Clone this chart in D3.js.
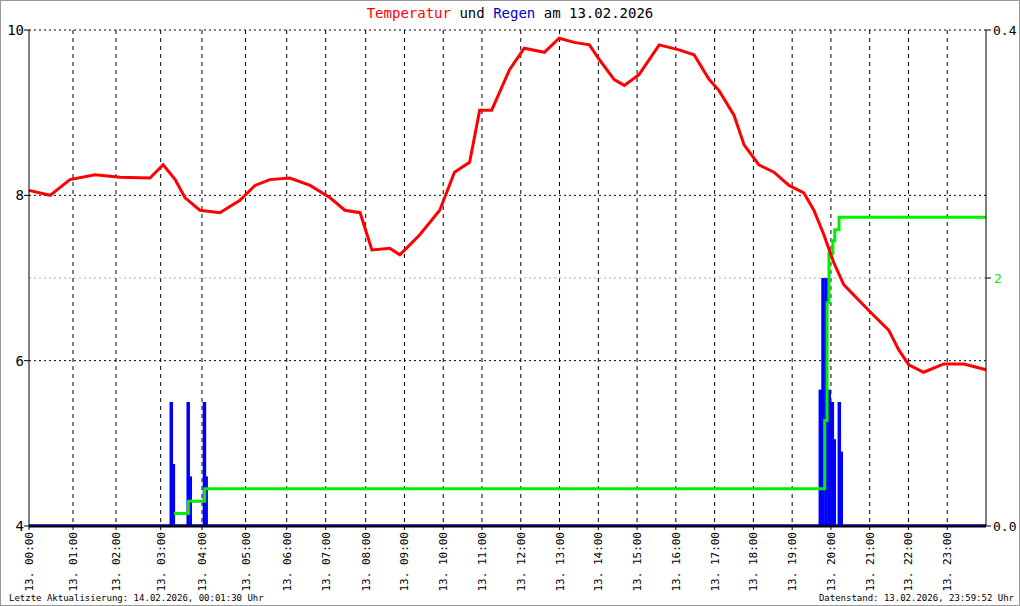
<!DOCTYPE html>
<html><head><meta charset="utf-8">
<script src="https://cdn.jsdelivr.net/npm/d3@7"></script>
<style>body{margin:0;background:#fff}svg{display:block}text{font-family:"DejaVu Sans Mono",monospace}</style>
</head><body><svg id="c" width="1020" height="606"></svg>
<script>
const tempHours=[0,0.48,0.93,1.51,2.09,2.76,3.06,3.35,3.59,3.95,4.41,4.87,5.23,5.59,6.08,6.60,7.11,7.48,7.86,8.16,8.62,8.88,9.39,9.91,10.29,10.68,10.94,11.25,11.71,12.09,12.61,12.99,13.38,13.77,14.03,14.41,14.67,15.05,15.57,16.08,16.47,16.86,17.11,17.50,17.76,18.14,18.53,18.92,19.30,19.56,19.82,20.07,20.33,20.72,21.10,21.49,21.75,22.01,22.39,22.91,23.43,24];
const tempValues=[8.06,8.00,8.19,8.25,8.22,8.21,8.37,8.19,7.97,7.82,7.79,7.94,8.12,8.19,8.21,8.12,7.97,7.82,7.79,7.34,7.36,7.28,7.52,7.82,8.28,8.40,9.03,9.03,9.52,9.78,9.73,9.90,9.85,9.82,9.64,9.40,9.33,9.46,9.82,9.76,9.70,9.40,9.27,8.97,8.61,8.37,8.28,8.12,8.03,7.82,7.52,7.19,6.92,6.73,6.55,6.37,6.13,5.95,5.86,5.96,5.96,5.89];
const rainHours=[3.25,3.30,3.66,3.71,4.05,4.09,19.72,19.79,19.87,19.95,20.03,20.08,20.21,20.26];
const rainValues=[0.1,0.05,0.1,0.04,0.1,0.04,0.11,0.2,0.2,0.11,0.1,0.07,0.1,0.06];
const sumHours=[3.32,3.67,4.06,19.69,19.84,19.90,19.95,20.05,20.10,20.21,24];
const sumValues=[0.1,0.2,0.3,0.3,0.85,1.8,2.2,2.3,2.39,2.49,2.49];
const hourTicks=d3.range(0,25);
const tempTicks=[4,6,8,10];
const title=[["Temperatur","#ff0000"],[" und ","#000"],["Regen","#0000cc"],[" am 13.02.2026","#000"]];

const svg=d3.select("#c");
svg.append("rect").attr("x",0.5).attr("y",0.5).attr("width",1019).attr("height",605).attr("fill","#fff").attr("stroke","#999");
const L=29,R=986,T=30,B=526;
// time axis of the source is slightly non-uniform
const xRange=[29,73,116,160.7,202,245.6,286.7,325.7,365.7];
for(let h=9;h<=24;h++) xRange.push(365.7+(h-8)*(R-365.7)/16);
const x=d3.scaleLinear().domain(hourTicks).range(xRange);
const yT=d3.scaleLinear().domain([4,10]).range([B,T]);
const yR=d3.scaleLinear().domain([0,0.4]).range([B,T]);
const yS=d3.scaleLinear().domain([0,4]).range([B,T]);

const g=svg.append("g");
hourTicks.slice(1,24).forEach(h=>g.append("line").attr("x1",x(h)).attr("x2",x(h)).attr("y1",T).attr("y2",B).attr("stroke","#000").attr("stroke-dasharray","4,4"));
[8,6,10].forEach(v=>g.append("line").attr("x1",L).attr("x2",R).attr("y1",yT(v)).attr("y2",yT(v)).attr("stroke","#000").attr("stroke-dasharray","2,3"));
g.append("line").attr("x1",L).attr("x2",R).attr("y1",yS(2)).attr("y2",yS(2)).attr("stroke","#aaa").attr("stroke-dasharray","2,3");

svg.append("g").selectAll("rect").data(rainHours).join("rect")
 .attr("x",(d)=>x(d)-1.5).attr("width",3.5)
 .attr("y",(d,i)=>yR(rainValues[i])).attr("height",(d,i)=>B-yR(rainValues[i])).attr("fill","#0000ff");

svg.append("path").datum(sumHours.map((h,i)=>[h,sumValues[i]]))
 .attr("d",d3.line().x(d=>x(d[0])).y(d=>yS(d[1])).curve(d3.curveStepAfter))
 .attr("fill","none").attr("stroke","#00ee00").attr("stroke-width",3);

svg.append("path").datum(tempHours.map((h,i)=>[h,tempValues[i]]))
 .attr("d",d3.line().x(d=>x(d[0])).y(d=>yT(d[1])))
 .attr("fill","none").attr("stroke","#ff0000").attr("stroke-width",3);

svg.append("line").attr("x1",L).attr("x2",L).attr("y1",T).attr("y2",B).attr("stroke","#000");
svg.append("line").attr("x1",R).attr("x2",R).attr("y1",T).attr("y2",B).attr("stroke","#000");
svg.append("line").attr("x1",L).attr("x2",R).attr("y1",B).attr("y2",B).attr("stroke","#000").attr("stroke-width",3);
svg.append("line").attr("x1",L).attr("x2",R).attr("y1",B-1).attr("y2",B-1).attr("stroke","#0000cc").attr("stroke-width",1);
tempTicks.forEach(v=>{
 svg.append("line").attr("x1",L-5).attr("x2",L).attr("y1",yT(v)).attr("y2",yT(v)).attr("stroke","#000");
 svg.append("text").attr("x",L-5).attr("y",yT(v)+5).attr("text-anchor","end").attr("font-size",14).text(v);
});
[[0,"0.0"],[0.4,"0.4"]].forEach(([v,l])=>{
 svg.append("line").attr("x1",R).attr("x2",R+5).attr("y1",yR(v)).attr("y2",yR(v)).attr("stroke","#000");
 svg.append("text").attr("x",R+7).attr("y",yR(v)+5).attr("font-size",13).text(l);
});
svg.append("line").attr("x1",R).attr("x2",R+5).attr("y1",yS(2)).attr("y2",yS(2)).attr("stroke","#000");
svg.append("text").attr("x",R+8).attr("y",yS(2)+5).attr("font-size",13).attr("fill","#00ee00").text("2");

hourTicks.slice(0,24).forEach(h=>{
 svg.append("line").attr("x1",x(h)).attr("x2",x(h)).attr("y1",B).attr("y2",B+4).attr("stroke","#000");
 svg.append("text").attr("transform",`translate(${x(h)+4},${B+6}) rotate(-90)`).attr("text-anchor","end").attr("font-size",11)
  .text("13. "+String(h).padStart(2,"0")+":00");
});

const t=svg.append("text").attr("x",510).attr("y",18).attr("text-anchor","middle").attr("font-size",14);
title.forEach(([s,c])=>t.append("tspan").attr("fill",c).attr("xml:space","preserve").text(s));
svg.append("text").attr("x",9).attr("y",601).attr("font-size",9).text("Letzte Aktualisierung: 14.02.2026, 00:01:30 Uhr");
svg.append("text").attr("x",1014).attr("y",601).attr("text-anchor","end").attr("font-size",9).text("Datenstand: 13.02.2026, 23:59:52 Uhr");
</script></body></html>
